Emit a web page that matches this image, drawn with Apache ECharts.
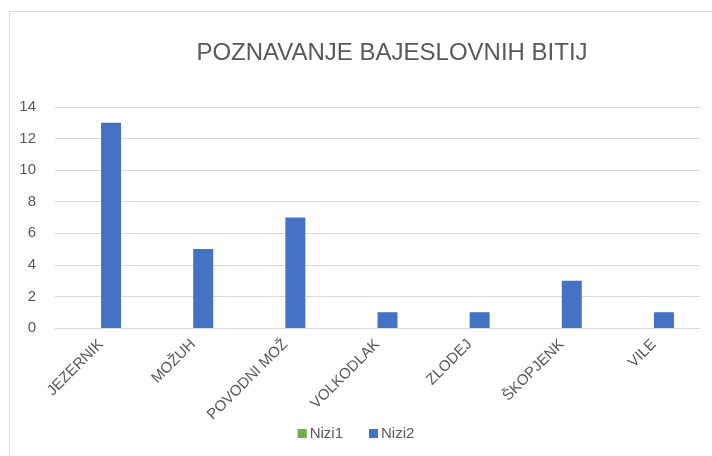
<!DOCTYPE html>
<html><head><meta charset="utf-8">
<script src="https://cdn.jsdelivr.net/npm/echarts@6/dist/echarts.min.js"></script>
<style>html,body{margin:0;padding:0;background:#fff}#c{width:712px;height:456px}</style>
</head><body><div id="c"></div>
<script>
const titleText = 'POZNAVANJE BAJESLOVNIH BITIJ';
const categories = ['JEZERNIK','MOŽUH','POVODNI MOŽ','VOLKODLAK','ZLODEJ','ŠKOPJENK','VILE'];
const nizi1 = [0,0,0,0,0,0,0];
const nizi2 = [13,5,7,1,1,3,1];
const yTicks = [0,2,4,6,8,10,12,14];

const chart = echarts.init(document.getElementById('c'), null, {renderer:'canvas'});
chart.setOption({
  animation:false,
  backgroundColor:'#fff',
  graphic:[{type:'rect',shape:{x:9.5,y:11.5,width:710,height:450},style:{fill:'none',stroke:'#d9d9d9',lineWidth:1},silent:true}],
  title:{text:titleText,left:387,top:36,textAlign:'center',
    textStyle:{fontFamily:'Liberation Sans Narrow, Liberation Sans',fontWeight:'normal',fontSize:24,color:'#595959'}},
  legend:{data:['Nizi1','Nizi2'],bottom:10,left:'center',itemWidth:9,itemHeight:9,itemGap:26,icon:'rect',
    textStyle:{fontFamily:'Liberation Sans Narrow, Liberation Sans',fontSize:15,color:'#595959',padding:[0,0,0,-2]}},
  grid:{left:55,right:12,top:107,bottom:128,containLabel:false},
  xAxis:{type:'category',data:categories,
    axisLine:{lineStyle:{color:'#d9d9d9'}},axisTick:{show:false},
    axisLabel:{rotate:45,interval:0,color:'#595959',fontSize:15,margin:14,
      fontFamily:'Liberation Sans Narrow, Liberation Sans'}},
  yAxis:{type:'value',min:0,max:14,interval:2,
    axisLine:{show:false},axisTick:{show:false},
    splitLine:{lineStyle:{color:'#d9d9d9'}},
    axisLabel:{color:'#595959',fontSize:15,margin:19,fontFamily:'Liberation Sans Narrow, Liberation Sans',
      formatter:v=>yTicks.includes(v)?String(v):''}},
  series:[
    {name:'Nizi1',type:'bar',data:nizi1,barWidth:20,barGap:'0%',itemStyle:{color:'#70ad47'}},
    {name:'Nizi2',type:'bar',data:nizi2,barWidth:20,barGap:'0%',itemStyle:{color:'#4472c4'}}
  ]
});
</script></body></html>
